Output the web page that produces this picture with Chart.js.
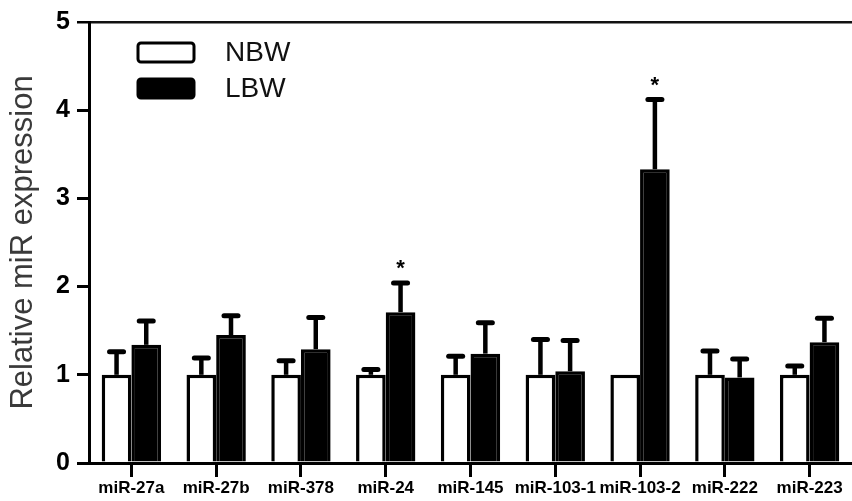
<!DOCTYPE html>
<html>
<head>
<meta charset="utf-8">
<script src="https://cdn.jsdelivr.net/npm/chart.js@4.4.0/dist/chart.umd.min.js"></script>
<style>
  html, body { margin: 0; padding: 0; background: #fff; }
  #wrap { width: 852px; height: 501px; }
</style>
</head>
<body>
<div id="wrap"><canvas id="myChart"></canvas></div>
<script>
// data
var labels = ['miR-27a', 'miR-27b', 'miR-378', 'miR-24', 'miR-145', 'miR-103-1', 'miR-103-2', 'miR-222', 'miR-223'];
var nbwMean = [1, 1, 1, 1, 1, 1, 1, 1, 1];
var nbwErr  = [0.26, 0.19, 0.16, 0.06, 0.21, 0.40, 0, 0.27, 0.10];
var lbwMean = [1.34, 1.45, 1.29, 1.71, 1.24, 1.04, 3.33, 0.97, 1.37];
var lbwErr  = [0.27, 0.22, 0.36, 0.33, 0.35, 0.35, 0.79, 0.21, 0.27];
var lbwSig  = ['', '', '', '*', '', '', '*', '', ''];
var yTicks  = [0, 1, 2, 3, 4, 5];

var FONT = '"Liberation Sans", Arial, sans-serif';

// error bars (upward only) + significance stars
var errorBars = {
  id: 'errorBars',
  afterDatasetsDraw: function(chart) {
    var ctx = chart.ctx;
    var y = chart.scales.y;
    var errs = [nbwErr, lbwErr];
    var sigs = [null, lbwSig];
    ctx.save();
    ctx.strokeStyle = '#000';
    ctx.fillStyle = '#000';
    chart.data.datasets.forEach(function(ds, i) {
      var meta = chart.getDatasetMeta(i);
      meta.data.forEach(function(bar, j) {
        var e = errs[i][j];
        var top = y.getPixelForValue(ds.data[j] + e);
        if (e > 0) {
          ctx.lineWidth = 4.5;
          ctx.lineCap = 'butt';
          ctx.beginPath();
          ctx.moveTo(bar.x, bar.y);
          ctx.lineTo(bar.x, top);
          ctx.stroke();
          ctx.lineWidth = 5;
          ctx.lineCap = 'round';
          ctx.beginPath();
          ctx.moveTo(bar.x - 7, top);
          ctx.lineTo(bar.x + 7, top);
          ctx.stroke();
        }
        if (sigs[i] && sigs[i][j]) {
          ctx.font = 'bold 22px ' + FONT;
          ctx.textAlign = 'center';
          ctx.textBaseline = 'middle';
          ctx.fillText(sigs[i][j], bar.x, top - 14);
        }
      });
    });
    ctx.restore();
  }
};

// legend drawn inside the plot, top left
var boxLegend = {
  id: 'boxLegend',
  afterDraw: function(chart) {
    var ctx = chart.ctx;
    ctx.save();
    chart.data.datasets.forEach(function(ds, i) {
      var bx = 138, by = 43 + i * 36, bw = 56, bh = 19;
      ctx.beginPath();
      ctx.roundRect(bx, by, bw, bh, 3);
      ctx.fillStyle = ds.backgroundColor;
      ctx.fill();
      ctx.lineWidth = 3;
      ctx.strokeStyle = '#000';
      ctx.stroke();
      ctx.fillStyle = '#111';
      ctx.font = '28px ' + FONT;
      ctx.textAlign = 'left';
      ctx.textBaseline = 'middle';
      ctx.fillText(ds.label, 225, by + bh / 2 + 1);
    });
    ctx.restore();
  }
};

var ctx = document.getElementById('myChart').getContext('2d');
var myChart = new Chart(ctx, {
  type: 'bar',
  data: {
    labels: labels,
    datasets: [{
      label: 'NBW',
      data: nbwMean,
      backgroundColor: '#ffffff',
      borderColor: '#000',
      borderWidth: 3.5,
      barPercentage: 1,
      categoryPercentage: 0.7
    }, {
      label: 'LBW',
      data: lbwMean,
      backgroundColor: '#000000',
      borderColor: '#000',
      borderWidth: 3.5,
      barPercentage: 1,
      categoryPercentage: 0.7
    }]
  },
  options: {
    responsive: true,
    maintainAspectRatio: false,
    animation: false,
    layout: { padding: { top: 21, right: 0, bottom: 0, left: 0 } },
    plugins: {
      legend: { display: false },
      tooltip: { enabled: false }
    },
    scales: {
      x: {
        afterFit: function(scale) { scale.height = 38; },
        grid: {
          offset: false,
          drawOnChartArea: false,
          tickLength: 14,
          tickColor: '#000',
          lineWidth: 3
        },
        border: { color: '#000', width: 3 },
        ticks: {
          color: '#000',
          padding: 1,
          maxRotation: 0,
          autoSkip: false,
          font: { family: FONT, size: 17, weight: 'bold' }
        }
      },
      y: {
        min: 0,
        max: 5,
        afterFit: function(scale) { scale.width = 89; },
        afterBuildTicks: function(scale) {
          scale.ticks = yTicks.map(function(v) { return { value: v }; });
        },
        grid: {
          color: function(c) { return c.tick && c.tick.value === 5 ? '#111' : 'rgba(0,0,0,0)'; },
          lineWidth: function(c) { return c.tick && c.tick.value === 5 ? 2.5 : 3; },
          tickColor: '#000',
          tickLength: 12,
          drawOnChartArea: true
        },
        border: { color: '#000', width: 3 },
        ticks: {
          color: '#000',
          padding: 7,
          font: { family: FONT, size: 25, weight: 'bold' }
        },
        title: {
          display: true,
          text: 'Relative miR expression',
          color: '#3a3a3a',
          padding: { top: 5, bottom: 0 },
          font: { family: FONT, size: 31 }
        }
      }
    }
  },
  plugins: [errorBars, boxLegend]
});
</script>
</body>
</html>
